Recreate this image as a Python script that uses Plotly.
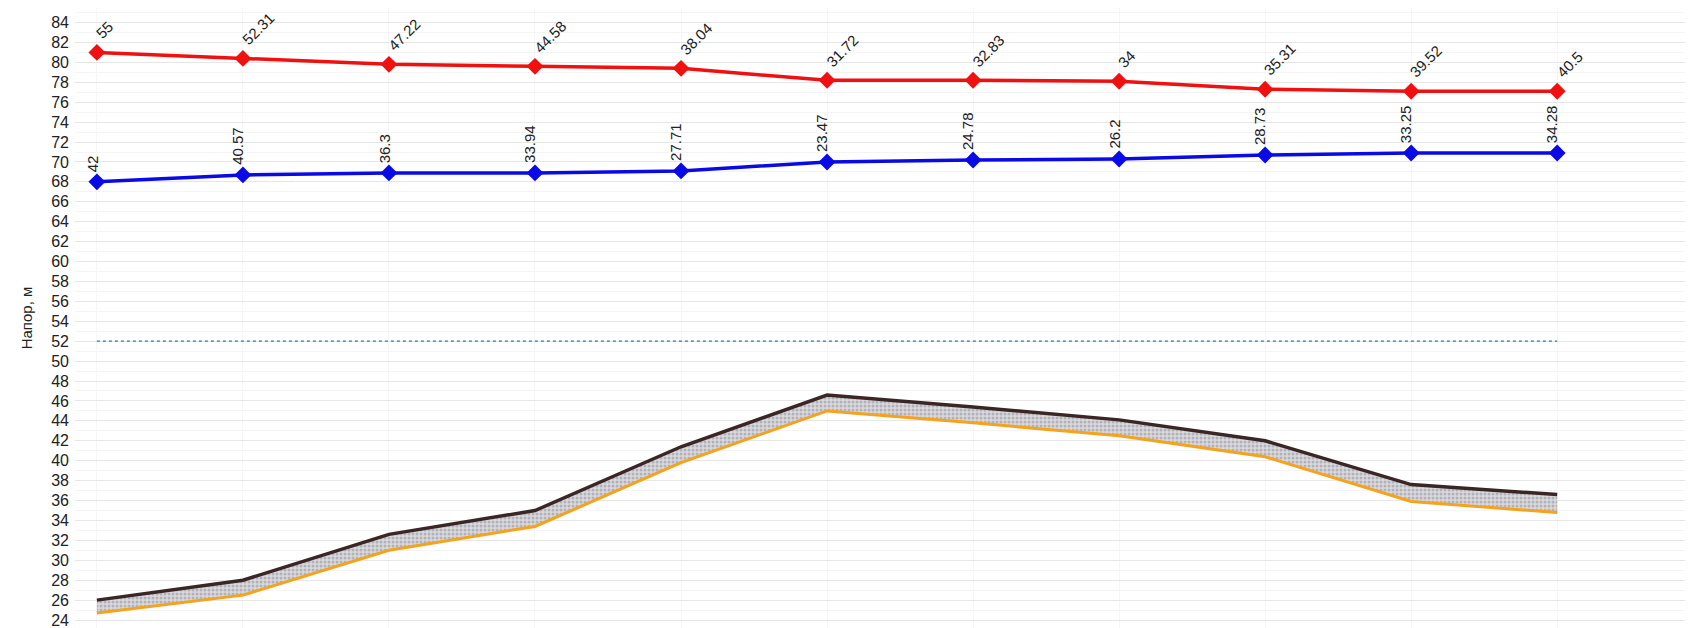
import plotly.graph_objects as go

# ---- data ----
points = list(range(11))
red_head = [81.0, 80.4, 79.8, 79.6, 79.4, 78.2, 78.2, 78.1, 77.3, 77.1, 77.1]
blue_head = [68.0, 68.7, 68.9, 68.9, 69.1, 70.0, 70.2, 70.3, 70.7, 70.9, 70.9]
ground_top = [26.0, 28.0, 32.6, 35.0, 41.4, 46.6, 45.4, 44.1, 42.0, 37.6, 36.6]
ground_bottom = [24.7, 26.5, 31.0, 33.4, 39.8, 45.0, 43.8, 42.5, 40.4, 35.9, 34.8]
red_labels = ["55", "52.31", "47.22", "44.58", "38.04", "31.72", "32.83", "34", "35.31", "39.52", "40.5"]
blue_labels = ["42", "40.57", "36.3", "33.94", "27.71", "23.47", "24.78", "26.2", "28.73", "33.25", "34.28"]
level_line = 52
y_ticks = list(range(24, 85, 2))
y_title = "Напор, м"

FONT = "Liberation Sans, Arial, sans-serif"

fig = go.Figure()

# dotted reference level
fig.add_trace(go.Scatter(
    x=[points[0], points[-1]], y=[level_line, level_line], mode="lines",
    line=dict(color="#2f74b5", width=1.3, dash="dot"), hoverinfo="skip", showlegend=False))

# ground band
fig.add_trace(go.Scatter(
    x=points, y=ground_bottom, mode="lines",
    line=dict(color="#f5a21c", width=3), showlegend=False))
fig.add_trace(go.Scatter(
    x=points, y=ground_top, mode="lines", fill="tonexty",
    fillcolor="#cfcfd4",
    fillpattern=dict(shape=".", fgcolor="#8a8a9c", bgcolor="#d9d9dc", size=4, solidity=0.45),
    line=dict(color="#3b2626", width=3.5), showlegend=False))

# head lines
fig.add_trace(go.Scatter(
    x=points, y=blue_head, mode="lines+markers",
    line=dict(color="#0a0ae6", width=3.5),
    marker=dict(symbol="diamond", size=13, color="#0a0ae6"), showlegend=False))
fig.add_trace(go.Scatter(
    x=points, y=red_head, mode="lines+markers",
    line=dict(color="#f01010", width=3.5),
    marker=dict(symbol="diamond", size=13, color="#f01010"), showlegend=False))

annotations = []
for xi, yi, t in zip(points, red_head, red_labels):
    annotations.append(dict(x=xi, y=yi, text=t, showarrow=False, textangle=-45,
                            xanchor="left", yanchor="bottom", xshift=-7, yshift=8,
                            font=dict(family=FONT, size=15, color="#222222")))
for xi, yi, t in zip(points, blue_head, blue_labels):
    annotations.append(dict(x=xi, y=yi, text=t, showarrow=False, textangle=-90,
                            xanchor="center", yanchor="bottom", xshift=-5, yshift=8,
                            font=dict(family=FONT, size=15, color="#222222")))

# page body has an 8px default margin -> figure is 8px smaller than the window
fig.update_layout(
    width=1685, height=620,
    margin=dict(l=67, r=0, t=0, b=0),
    paper_bgcolor="white", plot_bgcolor="white",
    font=dict(family=FONT, size=15, color="#222222"),
    annotations=annotations,
    xaxis=dict(range=[-0.15, 10.93], showticklabels=False, showgrid=True,
               gridcolor="#f6f6f6", gridwidth=1, zeroline=False, tickvals=points),
    yaxis=dict(range=[23.2, 85.46], tickvals=y_ticks, showgrid=True,
               gridcolor="#e6e6e6", gridwidth=1, zeroline=False,
               minor=dict(dtick=1, tick0=0, showgrid=True, gridcolor="#f4f4f4", ticks=""),
               ticks="", ticklabelstandoff=5, ticklabeloverflow="allow",
               tickfont=dict(family=FONT, size=16, color="#222222"),
               title=dict(text=y_title, font=dict(family=FONT, size=15, color="#222222"), standoff=14)),
)

fig.write_html("out.html")
